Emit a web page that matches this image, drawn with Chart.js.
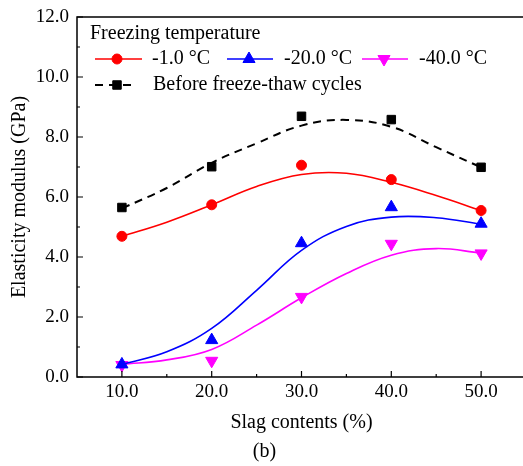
<!DOCTYPE html>
<html>
<head>
<meta charset="utf-8">
<script src="https://cdn.jsdelivr.net/npm/chart.js@4/dist/chart.umd.min.js"></script>
<style>
html, body { margin: 0; padding: 0; overflow: hidden; background: #fff; }
</style>
</head>
<body>
<canvas id="myChart" width="534" height="466"></canvas>
<script>
// measured points
var slag = [10, 20, 30, 40, 50];
var before = [5.65, 7.01, 8.69, 8.58, 6.99];
var t1 = [4.69, 5.74, 7.06, 6.58, 5.55];
var t20 = [0.42, 1.23, 4.46, 5.66, 5.11];
var t40 = [0.40, 0.54, 2.67, 4.44, 4.12];

// fitted curves
var fitX = [10, 15, 20, 25, 30, 35, 40, 45, 50];
var beforeFit = [5.62, 6.30, 7.14, 7.79, 8.38, 8.57, 8.34, 7.66, 6.99];
var t1Fit = [4.69, 5.16, 5.74, 6.35, 6.75, 6.79, 6.49, 6.05, 5.55];
var t20Fit = [0.42, 0.84, 1.62, 2.89, 4.22, 5.02, 5.33, 5.31, 5.09];
var t40Fit = [0.42, 0.57, 0.92, 1.73, 2.64, 3.45, 4.06, 4.28, 4.13];

var xTicks = [10, 20, 30, 40, 50];
var xMinor = [15, 25, 35, 45];
var yTicks = [0, 2, 4, 6, 8, 10, 12];
var yMinor = [1, 3, 5, 7, 9, 11];

var legendTitle = 'Freezing temperature';
var labels = ['-1.0 \u00b0C', '-20.0 \u00b0C', '-40.0 \u00b0C', 'Before freeze-thaw cycles'];

var serif = "'Liberation Serif', 'Times New Roman', serif";
Chart.defaults.font.family = serif;
Chart.defaults.font.size = 20;
Chart.defaults.color = '#000';

function pts(xs, ys) {
    return xs.map(function (x, i) { return {x: x, y: ys[i]}; });
}

function markers(label, ys, color, style, radius, rot) {
    return {
        label: label,
        data: pts(slag, ys),
        showLine: false,
        pointStyle: style,
        pointRadius: radius,
        pointRotation: rot || 0,
        backgroundColor: color,
        borderColor: color,
        borderWidth: 1
    };
}

function curve(ys, color, dash, width) {
    return {
        label: '',
        data: pts(fitX, ys),
        showLine: true,
        pointRadius: 0,
        borderColor: color,
        borderWidth: width,
        borderDash: dash,
        tension: 0.4,
        fill: false
    };
}

// frame (right side is cut off in the original), inward ticks and the legend
var decor = {
    id: 'decor',
    afterDraw: function (chart) {
        var c = chart.ctx, a = chart.chartArea;
        var xs = chart.scales.x, ys = chart.scales.y;
        c.save();
        c.strokeStyle = '#000';
        c.lineWidth = 1.5;
        c.beginPath();
        c.moveTo(chart.width, a.top);
        c.lineTo(a.left, a.top);
        c.lineTo(a.left, a.bottom);
        c.lineTo(chart.width, a.bottom);
        c.stroke();
        c.lineWidth = 1.2;
        c.beginPath();
        xTicks.forEach(function (v) { var p = xs.getPixelForValue(v); c.moveTo(p, a.bottom); c.lineTo(p, a.bottom - 6); });
        xMinor.forEach(function (v) { var p = xs.getPixelForValue(v); c.moveTo(p, a.bottom); c.lineTo(p, a.bottom - 3); });
        yTicks.forEach(function (v) { var p = ys.getPixelForValue(v); c.moveTo(a.left, p); c.lineTo(a.left + 6, p); });
        yMinor.forEach(function (v) { var p = ys.getPixelForValue(v); c.moveTo(a.left, p); c.lineTo(a.left + 3, p); });
        c.stroke();

        // legend
        var ds = chart.data.datasets;
        c.font = '20px ' + serif;
        c.fillStyle = '#000';
        c.textBaseline = 'middle';
        c.textAlign = 'left';
        c.fillText(legendTitle, 90, 34);
        var items = [
            {m: 0, l: 1, x: 95, y: 59, w: 47},
            {m: 2, l: 3, x: 227, y: 59, w: 46},
            {m: 4, l: 5, x: 362, y: 59, w: 46},
            {m: 6, l: 7, x: 95, y: 85, w: 40}
        ];
        items.forEach(function (it, i) {
            var md = ds[it.m], ld = ds[it.l];
            c.strokeStyle = ld.borderColor;
            c.lineWidth = ld.borderWidth;
            c.setLineDash(ld.borderDash || []);
            c.beginPath();
            c.moveTo(it.x, it.y);
            c.lineTo(it.x + it.w, it.y);
            c.stroke();
            c.setLineDash([]);
            c.fillStyle = md.backgroundColor;
            c.strokeStyle = md.borderColor;
            c.lineWidth = 1;
            Chart.helpers.drawPoint(c, {pointStyle: md.pointStyle, radius: md.pointRadius, rotation: md.pointRotation, borderWidth: 1}, it.x + 22, it.y);
            c.fillStyle = '#000';
            c.fillText(labels[i], i === 3 ? 153 : it.x + 57, it.y);
        });
        c.restore();
    }
};

var ctx = document.getElementById('myChart').getContext('2d');
var chart = new Chart(ctx, {
    type: 'scatter',
    data: {
        datasets: [
            markers(labels[0], t1, '#ff0000', 'circle', 5),
            curve(t1Fit, '#ff0000', [], 1.6),
            markers(labels[1], t20, '#0000ff', 'triangle', 7),
            curve(t20Fit, '#0000ff', [], 1.6),
            markers(labels[2], t40, '#ff00ff', 'triangle', 7, 180),
            curve(t40Fit, '#ff00ff', [], 1.6),
            markers(labels[3], before, '#000000', 'rect', 6),
            curve(beforeFit, '#000000', [8, 6], 2)
        ]
    },
    options: {
        responsive: false,
        animation: false,
        layout: {padding: {top: 17, right: 5, left: 0, bottom: 0}},
        plugins: {
            legend: {display: false},
            tooltip: {enabled: false},
            title: {
                display: true,
                text: '(b)',
                position: 'bottom',
                font: {size: 20, weight: 'normal'},
                padding: {top: 0, bottom: 2}
            }
        },
        scales: {
            x: {
                type: 'linear',
                min: 5,
                max: 55,
                grid: {display: false, drawTicks: false},
                border: {display: false},
                afterBuildTicks: function (s) { s.ticks = xTicks.map(function (v) { return {value: v}; }); },
                afterFit: function (s) { s.height = 63; s.paddingLeft = 0; s.paddingRight = 0; },
                ticks: {padding: 4, maxRotation: 0, font: {size: 19}, callback: function (v) { return v.toFixed(1); }},
                title: {display: true, text: 'Slag contents (%)', padding: {top: 0, bottom: 5}}
            },
            y: {
                min: 0,
                max: 12,
                grid: {display: false, drawTicks: false},
                border: {display: false},
                afterBuildTicks: function (s) { s.ticks = yTicks.map(function (v) { return {value: v}; }); },
                afterFit: function (s) { s.width = 77; s.paddingTop = 0; s.paddingBottom = 0; },
                ticks: {padding: 8, font: {size: 19}, callback: function (v) { return v.toFixed(1); }},
                title: {display: true, text: 'Elasticity modulus (GPa)', padding: {top: 8, bottom: 0}}
            }
        }
    },
    plugins: [decor]
});
</script>
</body>
</html>
